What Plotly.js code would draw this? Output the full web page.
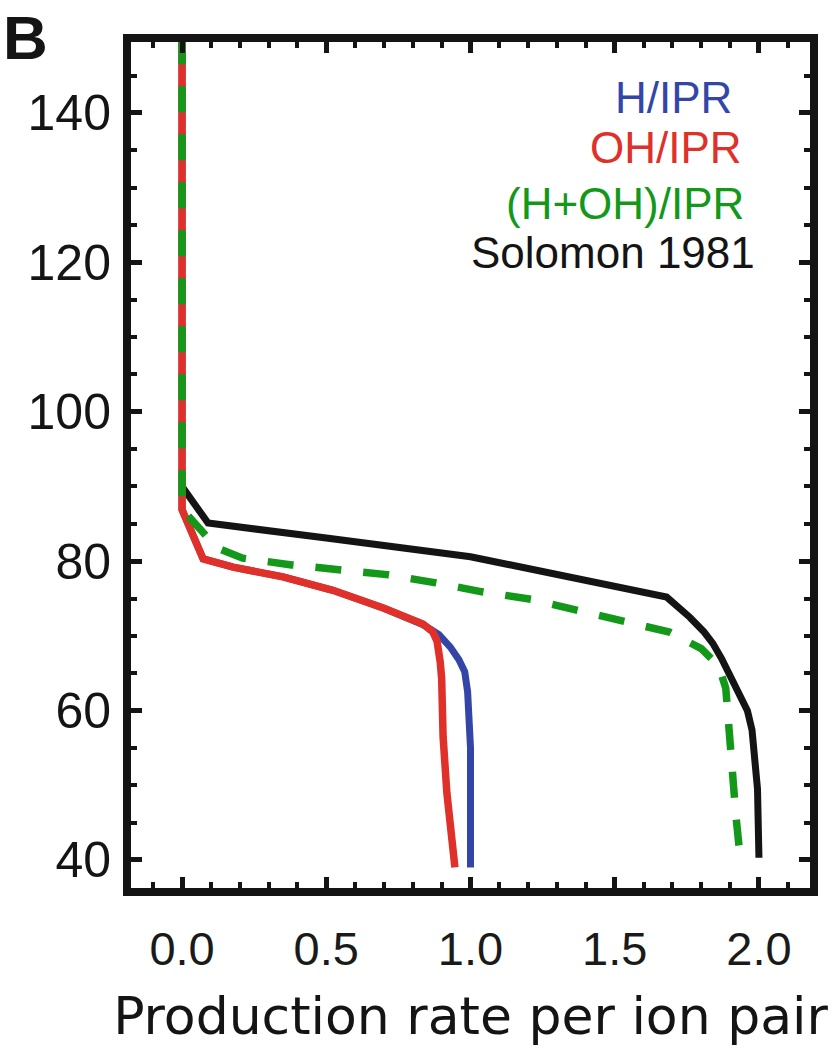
<!DOCTYPE html>
<html>
<head>
<meta charset="utf-8">
<script src="https://cdn.plot.ly/plotly-3.0.1.min.js"></script>
<style>html,body{margin:0;padding:0;background:#fff;}</style>
</head>
<body>
<div id="chart" style="width:833px;height:1053px;"></div>
<script>
// Altitude (km) profiles of production rate per ion pair
const solomonRate = [0, 0.09, 0.5, 1.0, 1.68, 1.76, 1.81, 1.84, 1.87, 1.91, 1.934, 1.96, 1.976, 1.985, 1.995, 2.0];
const solomonAlt  = [90, 85.1, 83.1, 80.6, 75.2, 72.5, 70.5, 69.0, 67.0, 64.0, 62.4, 60.0, 57.4, 54.5, 49.5, 40.3];

const hRate = [0, 0, 0.073, 0.177, 0.35, 0.523, 0.70, 0.836, 0.89, 0.93, 0.96, 0.98, 0.99, 0.997, 1.0, 1.0];
const hAlt  = [150, 86.9, 80.3, 79.2, 77.9, 76.1, 73.7, 71.5, 70.2, 68.5, 66.8, 65.2, 62.5, 59.0, 55.0, 39.0];

const ohRate = [0, 0, 0.073, 0.177, 0.35, 0.523, 0.70, 0.835, 0.87, 0.884, 0.895, 0.90, 0.905, 0.918, 0.946];
const ohAlt  = [150, 86.9, 80.3, 79.2, 77.9, 76.1, 73.7, 71.6, 70.5, 69.3, 66.5, 64.3, 56.5, 49.0, 39.0];

const sumRate = [0, 0, 0.12, 0.21, 0.38, 0.54, 0.71, 0.88, 1.04, 1.21, 1.37, 1.535, 1.69, 1.8, 1.86, 1.885, 1.895, 1.905, 1.92, 1.935];
const sumAlt  = [150, 87.0, 81.8, 80.4, 79.5, 78.8, 78.2, 77.1, 75.9, 74.9, 73.5, 72.1, 70.5, 68.3, 66.0, 63.0, 58.0, 52.0, 46.0, 40.3];

const legendLabels = ["H/IPR", "OH/IPR", "(H+OH)/IPR", "Solomon 1981"];
const xTickVals = [0.0, 0.5, 1.0, 1.5, 2.0];
const xTickText = ["0.0", "0.5", "1.0", "1.5", "2.0"];
const yTickVals = [40, 60, 80, 100, 120, 140];
const yTickText = ["40", "60", "80", "100", "120", "140"];

const BLUE = '#3346a8', RED = '#e0302a', GREEN = '#13981a', BLACK = '#141414';

const traces = [
  {x: solomonRate, y: solomonAlt, mode: 'lines', line: {color: BLACK, width: 7}, name: legendLabels[3]},
  {x: hRate, y: hAlt, mode: 'lines', line: {color: BLUE, width: 7}, name: legendLabels[0]},
  {x: ohRate, y: ohAlt, mode: 'lines', line: {color: RED, width: 7.5}, name: legendLabels[1]},
  {x: sumRate, y: sumAlt, mode: 'lines', line: {color: GREEN, width: 7.5, dash: '26px,22px'}, name: legendLabels[2]}
];

const W = 833, H = 1053, L = 131, R = 23, T = 42, B = 165;
const pw = W - L - R, ph = H - T - B;
function px(xp){ return (xp - L) / pw; }
function py(yp){ return 1 - (yp - T) / ph; }

const legendColors = [BLUE, RED, GREEN, BLACK];
const legendRight = [734, 744, 746, 757];
const legendY = [97, 148, 203, 253];

const annotations = legendLabels.map((t, i) => ({
  text: t, xref: 'paper', yref: 'paper', x: px(legendRight[i]), y: py(legendY[i]),
  xanchor: 'right', yanchor: 'middle', showarrow: false,
  font: {family: 'Liberation Sans, Arial, sans-serif', size: 44, color: legendColors[i]}
}));
annotations.push({
  text: '<b>B</b>', xref: 'paper', yref: 'paper', x: px(1), y: py(38),
  xanchor: 'left', yanchor: 'middle', showarrow: false,
  font: {family: 'Liberation Sans, Arial, sans-serif', size: 62, color: BLACK}
});

const layout = {
  width: W, height: H,
  margin: {l: L, r: R, t: T, b: B},
  paper_bgcolor: '#fff', plot_bgcolor: '#fff',
  showlegend: false,
  xaxis: {
    range: [-0.177, 2.177], tickmode: 'array', tickvals: xTickVals, ticktext: xTickText,
    ticks: 'inside', ticklen: 11, tickwidth: 5, tickcolor: BLACK,
    showline: true, linewidth: 8, linecolor: BLACK, mirror: 'ticks',
    showgrid: false, zeroline: false,
    minor: {dtick: 0.1, tick0: 0, ticks: 'inside', ticklen: 6, tickwidth: 4, tickcolor: BLACK, showgrid: false},
    tickfont: {family: 'Liberation Sans, Arial, sans-serif', size: 47, color: '#1a1a1a'},
    ticklabelstandoff: 13,
    title: {text: 'Production rate per ion pair', standoff: 26,
            font: {family: 'DejaVu Sans, sans-serif', size: 52, color: BLACK}}
  },
  yaxis: {
    range: [36.25, 149.5], tickmode: 'array', tickvals: yTickVals, ticktext: yTickText,
    ticks: 'inside', ticklen: 11, tickwidth: 5, tickcolor: BLACK,
    showline: true, linewidth: 8, linecolor: BLACK, mirror: 'ticks',
    showgrid: false, zeroline: false,
    minor: {dtick: 5, tick0: 0, ticks: 'inside', ticklen: 6, tickwidth: 4, tickcolor: BLACK, showgrid: false},
    tickfont: {family: 'Liberation Sans, Arial, sans-serif', size: 50, color: BLACK},
    ticklabelstandoff: 2
  },
  annotations: annotations
};

Plotly.newPlot('chart', traces, layout, {displayModeBar: false, staticPlot: true});
</script>
</body>
</html>
